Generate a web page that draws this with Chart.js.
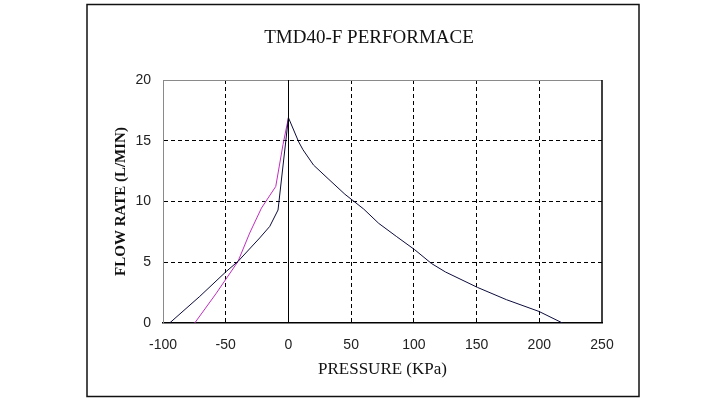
<!DOCTYPE html>
<html>
<head>
<meta charset="utf-8">
<title>TMD40-F PERFORMACE</title>
<script src="https://cdn.jsdelivr.net/npm/chart.js@4.4.1/dist/chart.umd.min.js"></script>
<style>
  html, body { margin: 0; padding: 0; background: #fff; }
  #chart { display: block; }
</style>
</head>
<body>
<canvas id="chart" width="720" height="408"></canvas>
<script>
// Curve: pressure (KPa) vs flow rate (L/MIN)
const blackPressure = [-94.7, -70.7, -49.5, -40.2, -22.9, -14.9, -8.3, 0, 8.2, 11.6, 20, 31.6, 45, 60, 72, 86, 100.7, 114, 125.2, 150.7, 173.8, 199.8, 218.5];
const blackFlow     = [0, 2.19, 4.25, 5.07, 7.0, 7.95, 9.3, 16.9, 14.9, 14.26, 13.0, 11.88, 10.6, 9.38, 8.2, 7.13, 6.03, 4.9, 4.2, 2.93, 1.92, 0.95, 0];

const pinkPressure = [-74.7, -57.5, -40.2, -30.9, -21.5, -10.1, -4.3, 0];
const pinkFlow     = [0, 2.45, 5.07, 7.4, 9.46, 11.24, 14.7, 16.9];

const xTicks = [-100, -50, 0, 50, 100, 150, 200, 250];
const yTicks = [0, 5, 10, 15, 20];

const chartTitle = 'TMD40-F PERFORMACE';
const xTitle = 'PRESSURE (KPa)';
const yTitle = 'FLOW RATE (L/MIN)';

function toPoints(xs, ys) {
  return xs.map((x, i) => ({ x: x, y: ys[i] }));
}

// Frame, title and solid lines that the grid options can't do per tick
const framePlugin = {
  id: 'frame',
  afterDraw(chart) {
    const { ctx, chartArea, scales } = chart;
    ctx.save();
    // outer box
    ctx.strokeStyle = '#111';
    ctx.lineWidth = 1.5;
    ctx.strokeRect(87, 4.5, 552, 392);
    // top edge (gray) and right edge (black) of the plot
    ctx.lineWidth = 1;
    ctx.strokeStyle = '#8a8a8a';
    ctx.beginPath();
    ctx.moveTo(chartArea.left, Math.round(chartArea.top) + 0.5);
    ctx.lineTo(chartArea.right, Math.round(chartArea.top) + 0.5);
    ctx.stroke();
    ctx.strokeStyle = '#000';
    ctx.lineWidth = 1.5;
    ctx.beginPath();
    ctx.moveTo(chartArea.right, chartArea.top);
    ctx.lineTo(chartArea.right, chartArea.bottom);
    ctx.stroke();
    // solid line at zero pressure
    const x0 = Math.round(scales.x.getPixelForValue(0)) + 0.5;
    ctx.lineWidth = 1;
    ctx.beginPath();
    ctx.moveTo(x0, chartArea.top);
    ctx.lineTo(x0, chartArea.bottom);
    ctx.stroke();
    // title
    ctx.fillStyle = '#111';
    ctx.font = '19px "Liberation Serif", serif';
    ctx.textAlign = 'center';
    ctx.textBaseline = 'middle';
    ctx.fillText(chartTitle, 369, 38);
    ctx.restore();
  }
};

const dashedGrid = (edges) => ({
  color: (c) => (c.tick && edges.includes(c.tick.value)) ? 'rgba(0,0,0,0)' : '#000',
  lineWidth: 1,
  drawTicks: false
});

new Chart(document.getElementById('chart').getContext('2d'), {
  type: 'line',
  data: {
    datasets: [
      {
        data: toPoints(blackPressure, blackFlow),
        borderColor: '#0b0b3c',
        borderWidth: 1,
        pointRadius: 0,
        tension: 0
      },
      {
        data: toPoints(pinkPressure, pinkFlow),
        borderColor: '#c22cc0',
        borderWidth: 1,
        pointRadius: 0,
        tension: 0
      }
    ]
  },
  options: {
    responsive: false,
    animation: false,
    layout: {
      padding: { left: 100, right: 118, top: 80, bottom: 0 }
    },
    scales: {
      x: {
        type: 'linear',
        min: -100,
        max: 250,
        afterBuildTicks: (scale) => { scale.ticks = xTicks.map(v => ({ value: v })); },
        afterFit: (scale) => { scale.height = 85; },
        grid: dashedGrid([-100, 0, 250]),
        border: { color: '#000', width: 1.5, dash: [4, 3] },
        ticks: {
          padding: 14,
          color: '#222',
          font: { family: '"Liberation Sans", sans-serif', size: 14 },
          maxRotation: 0
        },
        title: {
          display: true,
          text: xTitle,
          color: '#111',
          font: { family: '"Liberation Serif", serif', size: 17 },
          padding: { top: 0, bottom: 28 }
        }
      },
      y: {
        min: 0,
        max: 20,
        afterBuildTicks: (scale) => { scale.ticks = yTicks.map(v => ({ value: v })); },
        afterFit: (scale) => { scale.width = 63; },
        grid: dashedGrid([0, 20]),
        border: { color: '#8a8a8a', width: 1, dash: [4, 3] },
        ticks: {
          padding: 12,
          color: '#222',
          font: { family: '"Liberation Sans", sans-serif', size: 14 }
        },
        title: {
          display: true,
          text: yTitle,
          color: '#111',
          font: { family: '"Liberation Serif", serif', size: 15, weight: 'bold' },
          padding: { top: 12, bottom: 0 }
        }
      }
    },
    plugins: {
      legend: { display: false },
      tooltip: { enabled: false }
    }
  },
  plugins: [framePlugin]
});
</script>
</body>
</html>
